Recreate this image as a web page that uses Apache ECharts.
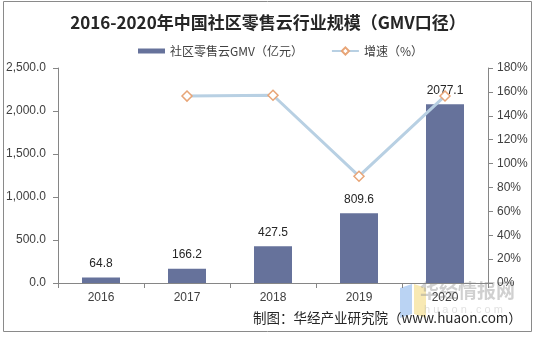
<!DOCTYPE html>
<html>
<head>
<meta charset="utf-8">
<script src="https://cdn.jsdelivr.net/npm/echarts@6/dist/echarts.min.js"></script>
<style>
  html, body { margin: 0; padding: 0; background: #fff; }
  #chart { width: 536px; height: 337px; }
</style>
</head>
<body>
<div id="chart"></div>
<script>
// Years on the category axis
const years = ['2016', '2017', '2018', '2019', '2020'];
// Community retail cloud GMV, 100 million yuan
const gmv = [64.8, 166.2, 427.5, 809.6, 2077.1];
// Year-on-year growth, percent (no value for the first year)
const growth = [null, 156.5, 157.2, 89.4, 156.6];

const barName = '社区零售云GMV（亿元）';
const lineName = '增速（%）';

const chart = echarts.init(document.getElementById('chart'));
const sans = 'Liberation Sans, Arial, sans-serif';
const cjk = '"Noto Sans CJK SC", sans-serif';

chart.setOption({
  backgroundColor: '#ffffff',
  animation: false,
  title: {
    text: '2016-2020年中国社区零售云行业规模（GMV口径）',
    left: 'center',
    top: 9,
    textStyle: { fontFamily: cjk, fontSize: 17, fontWeight: 'bold', color: '#262626' }
  },
  legend: {
    top: 40,
    left: 133,
    itemGap: 28,
    itemWidth: 27,
    itemHeight: 9,
    textStyle: { fontFamily: cjk, fontSize: 12, color: '#404040' },
    data: [
      { name: barName, icon: 'path://M0,0 L27,0 L27,5 L0,5 Z' },
      { name: lineName }
    ]
  },
  grid: { left: 58, right: 48, top: 68, bottom: 54 },
  xAxis: {
    type: 'category',
    data: years,
    axisLine: { lineStyle: { color: '#868686' } },
    axisTick: { show: true, inside: false, length: 5, lineStyle: { color: '#868686' } },
    axisLabel: { fontFamily: sans, fontSize: 12, color: '#404040', margin: 9 }
  },
  yAxis: [
    {
      type: 'value',
      min: 0, max: 2500, interval: 500,
      axisLine: { show: true, lineStyle: { color: '#868686' } },
      axisTick: { show: true, length: 5, lineStyle: { color: '#868686' } },
      splitLine: { show: false },
      axisLabel: {
        fontFamily: sans, fontSize: 12, color: '#404040', margin: 12,
        formatter: v => v.toLocaleString('en-US', { minimumFractionDigits: 1, maximumFractionDigits: 1 })
      }
    },
    {
      type: 'value',
      min: 0, max: 180, interval: 20,
      position: 'right',
      axisLine: { show: true, lineStyle: { color: '#868686' } },
      axisTick: { show: true, length: 5, lineStyle: { color: '#868686' } },
      splitLine: { show: false },
      axisLabel: { fontFamily: sans, fontSize: 12, color: '#404040', margin: 9, formatter: '{value}%' }
    }
  ],
  series: [
    {
      name: barName,
      type: 'bar',
      data: gmv,
      barWidth: 38,
      itemStyle: { color: '#66729b' },
      label: {
        show: true, position: 'top', distance: 8,
        fontFamily: sans, fontSize: 12, color: '#262626',
        formatter: p => p.value.toFixed(1)
      }
    },
    {
      name: lineName,
      type: 'line',
      yAxisIndex: 1,
      data: growth,
      symbol: 'diamond',
      symbolSize: 10,
      lineStyle: { color: '#b8d0e3', width: 3 },
      itemStyle: { color: '#ffffff', borderColor: '#e8a577', borderWidth: 1.5 },
      z: 3
    }
  ],
  graphic: [
    {
      type: 'rect',
      shape: { x: 3.5, y: 1.5, width: 528, height: 330 },
      style: { fill: 'none', stroke: '#8a8a8a', lineWidth: 1 },
      silent: true
    },
    // site watermark in the lower right corner
    {
      type: 'polygon',
      shape: { points: [[400, 288], [412, 284], [412, 314], [400, 318]] },
      style: { fill: '#a9c8f0', opacity: 0.8 },
      silent: true
    },
    {
      type: 'polygon',
      shape: { points: [[414, 284], [426, 288], [426, 318], [414, 314]] },
      style: { fill: '#f6e3a0', opacity: 0.8 },
      silent: true
    },
    {
      type: 'text',
      left: 420, top: 281,
      style: { text: '华经情报网', fontFamily: cjk, fontSize: 19, fontWeight: 'bold', fill: 'rgba(150,150,150,0.45)' },
      silent: true
    },
    {
      type: 'text',
      left: 424, top: 304,
      style: { text: 'h u a o n . c o m', fontFamily: sans, fontSize: 11, fill: 'rgba(170,170,170,0.35)' },
      silent: true
    },
    {
      type: 'text',
      left: 253, top: 311,
      style: { text: '制图：华经产业研究院（www.huaon.com）', fontFamily: cjk, fontSize: 13.5, fill: '#262626' },
      silent: true
    }
  ]
});
</script>
</body>
</html>
